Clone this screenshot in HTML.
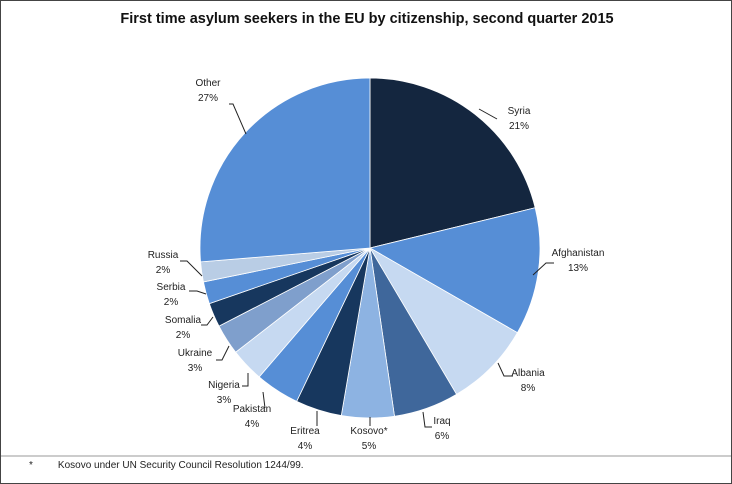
<!DOCTYPE html>
<html><head><meta charset="utf-8"><style>
body{margin:0;background:#fff;font-family:"Liberation Sans",sans-serif}
#wrap{position:relative;width:730px;height:482px;border:1px solid #444;overflow:hidden}
.lbl{position:absolute;font-size:10px;color:#222;text-align:center;line-height:15px;white-space:nowrap}
</style></head><body>
<div id="wrap">
<div style="position:absolute;left:0;width:732px;top:10px;text-align:center;font-weight:bold;font-size:14.5px;color:#111">First time asylum seekers in the EU by citizenship, second quarter 2015</div>
<svg id="pie" width="732" height="484" style="position:absolute;left:0;top:0"></svg>
<div style="position:absolute;left:0;top:454px;width:732px;height:2px;background:#ccc"></div>
<div style="position:absolute;left:28px;top:459px;font-size:10px;color:#222">*&nbsp;&nbsp;&nbsp;&nbsp;&nbsp;&nbsp;&nbsp;&nbsp;&nbsp;Kosovo under UN Security Council Resolution 1244/99.</div>
</div>
<script>
const categories=["Syria","Afghanistan","Albania","Iraq","Kosovo*","Eritrea","Pakistan","Nigeria","Ukraine","Somalia","Serbia","Russia","Other"];
const values=[21.2,12.1,8.2,6.2,5.0,4.4,4.2,3.2,2.9,2.3,2.1,1.9,26.3];
const labels=["21%","13%","8%","6%","5%","4%","4%","3%","3%","2%","2%","2%","27%"];
const colors=["#14263f","#568ed6","#c6d9f1","#3f679b","#8db3e2","#17375e","#568ed6","#c6d9f1","#7f9fcc","#17375e","#568ed6","#b9cde5","#568ed6"];
const labelPos=[[518,118],[577,260],[527,380],[441,428],[368,438],[304,438],[251,416],[223,392],[194,360],[182,327],[170,294],[162,262],[207,90]];
const lines=[[[496,118],[478,108]],[[553,262],[545,262],[532,274]],[[512,375],[503,375],[497,362]],[[431,426],[424,426],[422,411]],[[369,425],[369,416]],[[316,425],[316,410]],[[264,407],[262,391]],[[241,385],[247,385],[247,372]],[[215,359],[221,359],[228,345]],[[200,324],[206,324],[212,316]],[[188,290],[196,290],[205,293]],[[179,260],[186,260],[201,275]],[[228,103],[232,103],[245,133]]];
const svg=document.getElementById('pie');const NS="http://www.w3.org/2000/svg";
const cx=369,cy=247,r=170;const total=values.reduce((a,b)=>a+b,0);
function pt(frac){const a=frac*2*Math.PI;return [cx+r*Math.sin(a),cy-r*Math.cos(a)];}
let acc=0;
values.forEach((v,i)=>{
const p0=pt(acc/total);acc+=v;const p1=pt(acc/total);
const large=v/total>0.5?1:0;
const path=document.createElementNS(NS,'path');
path.setAttribute('d',`M${cx},${cy}L${p0[0]},${p0[1]}A${r},${r} 0 ${large} 1 ${p1[0]},${p1[1]}Z`);
path.setAttribute('fill',colors[i]);path.setAttribute('stroke','#fff');path.setAttribute('stroke-width','0.8');


svg.appendChild(path);
const pl=document.createElementNS(NS,'polyline');
pl.setAttribute('points',lines[i].map(p=>p.join(',')).join(' '));
pl.setAttribute('fill','none');pl.setAttribute('stroke','#222');pl.setAttribute('stroke-width','1');


svg.appendChild(pl);
const d=document.createElement('div');d.className='lbl';


d.innerHTML=categories[i]+'<br>'+labels[i];
d.style.left=labelPos[i][0]+'px';d.style.top=(labelPos[i][1]-15)+'px';d.style.transform='translateX(-50%)';
document.getElementById('wrap').appendChild(d);
});
</script>
</body></html>
